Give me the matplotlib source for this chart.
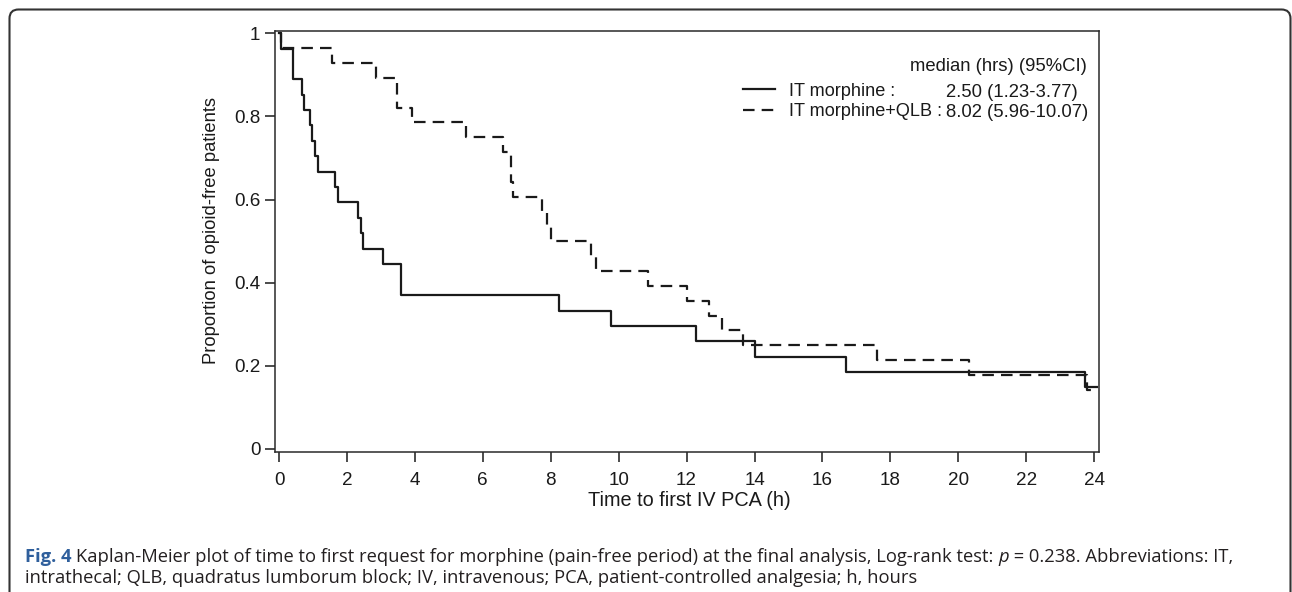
import matplotlib
matplotlib.use('Agg')
import matplotlib.pyplot as plt
from matplotlib.patches import FancyBboxPatch
from matplotlib.transforms import IdentityTransform

# ---------------- data ----------------
t_it = [0, 0.05, 0.40, 0.69, 0.75, 0.91, 0.98, 1.05, 1.16, 1.65, 1.74, 2.34, 2.41,
        2.48, 3.07, 3.58, 8.25, 9.77, 12.27, 14.0, 16.69, 23.73, 24.08]
s_it = [1, 0.963, 0.889, 0.852, 0.815, 0.778, 0.741, 0.704, 0.667, 0.630, 0.593,
        0.556, 0.519, 0.481, 0.444, 0.370, 0.333, 0.296, 0.259, 0.222, 0.185, 0.148, 0.148]

t_qlb = [0, 0.05, 1.57, 2.86, 3.47, 3.91, 5.51, 6.58, 6.82, 6.90, 7.73, 7.90, 8.00,
         9.19, 9.33, 10.85, 12.0, 12.67, 13.05, 13.67, 17.6, 20.3, 23.78, 24.08]
s_qlb = [1, 0.964, 0.929, 0.893, 0.821, 0.786, 0.750, 0.714, 0.643, 0.607, 0.571,
         0.536, 0.500, 0.464, 0.429, 0.393, 0.357, 0.321, 0.286, 0.250, 0.214, 0.179,
         0.143, 0.143]

series_labels = ["IT morphine :", "IT morphine+QLB :"]
median_labels = ["2.50 (1.23-3.77)", "8.02 (5.96-10.07)"]
median_header = "median (hrs) (95%CI)"
x_ticks = list(range(0, 25, 2))
y_ticks = [0, 0.2, 0.4, 0.6, 0.8, 1]
y_tick_labels = ["0", "0.2", "0.4", "0.6", "0.8", "1"]
x_label = "Time to first IV PCA (h)"
y_label = "Proportion of opioid-free patients"
cap_bold = "Fig. 4"
cap_line1a = "Kaplan-Meier plot of time to first request for morphine (pain-free period) at the final analysis, Log-rank test: "
cap_p = "p"
cap_line1b = " = 0.238. Abbreviations: IT,"
cap_line2 = "intrathecal; QLB, quadratus lumborum block; IV, intravenous; PCA, patient-controlled analgesia; h, hours"

# ---------------- figure ----------------
W, H = 1292, 592
fig = plt.figure(figsize=(W / 100, H / 100), dpi=100)
fig.patch.set_facecolor('white')

PF = 'Liberation Sans'
CF = 'Open Sans'
FS_TICK = 13.6
FS_LEG = 13.1
ink = '#1a1a1a'

ax = fig.add_axes([275 / W, 1 - 452.3 / H, (1099.3 - 275) / W, (452.3 - 30.7) / H])
l1, = ax.step(t_it, s_it, where='post', color=ink, lw=1.6, label=series_labels[0])
l2, = ax.step(t_qlb, s_qlb, where='post', color=ink, lw=1.6, dashes=(5.2, 3.2),
              label=series_labels[1])

ax.set_xlim(-0.118, 24.15)
ax.set_ylim(-0.008, 1.006)
ax.set_xticks(x_ticks)
ax.set_xticklabels([str(v) for v in x_ticks], fontfamily=PF, fontsize=FS_TICK)
ax.set_yticks(y_ticks)
ax.set_yticklabels(y_tick_labels, fontfamily=PF, fontsize=FS_TICK)
ax.tick_params(axis='both', direction='out', length=7, width=1.1, colors=ink)
ax.tick_params(axis='x', pad=7.5)
ax.tick_params(axis='y', pad=3.5)
for sp in ax.spines.values():
    sp.set_linewidth(1.1)
    sp.set_color('#2a2a2a')

leg = ax.legend(handles=[l1, l2], loc='upper left', bbox_to_anchor=(0.5678, 0.877),
                frameon=False, handlelength=1.77, handletextpad=0.78, labelspacing=0.2,
                borderpad=0, borderaxespad=0, prop={'family': PF, 'size': FS_LEG})
for t in leg.get_texts():
    t.set_color(ink)

ax.text(0.985, 0.9162, median_header, transform=ax.transAxes, ha='right', va='center',
        fontfamily=PF, fontsize=FS_LEG + 0.2, color=ink)
ax.text(0.814, 0.8546, median_labels[0], transform=ax.transAxes, ha='left', va='center',
        fontfamily=PF, fontsize=FS_LEG + 0.2, color=ink)
ax.text(0.814, 0.8058, median_labels[1], transform=ax.transAxes, ha='left', va='center',
        fontfamily=PF, fontsize=FS_LEG + 0.2, color=ink)

fig.text(689 / W, 1 - 500 / H, x_label, ha='center', va='center', fontfamily=PF,
         fontsize=14.3, color=ink)
fig.text(211.7 / W, 1 - 230.5 / H, y_label, ha='center', va='center', rotation=90,
         fontfamily=PF, fontsize=13.2, color=ink)

# outer rounded frame (open at bottom)
frame = FancyBboxPatch((9.5, -40), 1281, H - 9.5 + 40,
                       boxstyle='round,pad=0,rounding_size=9',
                       transform=IdentityTransform(), fill=False, lw=1.5,
                       edgecolor='#333333')
fig.add_artist(frame)

# caption
capfs = 13.2
capcol = '#231f20'
renderer = fig.canvas.get_renderer()
y1 = 1 - 561.5 / H
y2 = 1 - 583 / H
x0 = 25 / W
t = fig.text(x0, y1, cap_bold, fontfamily=CF, fontweight='bold', fontsize=capfs,
             color='#2f5f9c', va='baseline', ha='left')
bb = t.get_window_extent(renderer)
space = 5
x = (bb.x1 + space) / W
t = fig.text(x, y1, cap_line1a, fontfamily=CF, fontsize=capfs, color=capcol, va='baseline')
bb = t.get_window_extent(renderer)
x = (bb.x1) / W
t = fig.text(x, y1, cap_p, fontfamily=CF, fontstyle='italic', fontsize=capfs, color=capcol,
             va='baseline')
bb = t.get_window_extent(renderer)
x = (bb.x1) / W
fig.text(x, y1, cap_line1b, fontfamily=CF, fontsize=capfs, color=capcol, va='baseline')
fig.text(x0, y2, cap_line2, fontfamily=CF, fontsize=capfs, color=capcol, va='baseline')

fig.savefig('out.png', dpi=100, facecolor='white')
